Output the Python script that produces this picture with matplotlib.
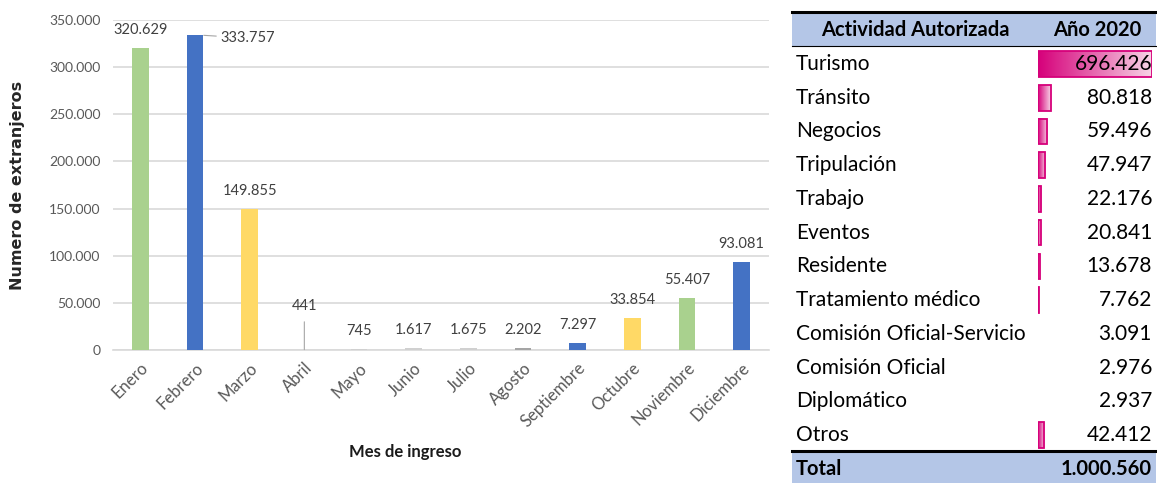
import numpy as np
import matplotlib.pyplot as plt
from matplotlib.patches import Rectangle
from matplotlib.colors import LinearSegmentedColormap

# monthly data (left chart)
meses = ["Enero", "Febrero", "Marzo", "Abril", "Mayo", "Junio", "Julio",
         "Agosto", "Septiembre", "Octubre", "Noviembre", "Diciembre"]
ingresos = [320629, 333757, 149855, 441, 745, 1617, 1675, 2202, 7297, 33854, 55407, 93081]
colores = ["#A9D18E", "#4472C4", "#FFD966", "#A5A5A5", "#D0D0D0", "#D0D0D0", "#D0D0D0",
           "#A5A5A5", "#4472C4", "#FFD966", "#A9D18E", "#4472C4"]
yticks = [0, 50000, 100000, 150000, 200000, 250000, 300000, 350000]

# table data (right)
actividades = ["Turismo", "Tránsito", "Negocios", "Tripulación", "Trabajo", "Eventos",
               "Residente", "Tratamiento médico", "Comisión Oficial-Servicio",
               "Comisión Oficial", "Diplomático", "Otros"]
valores = [696426, 80818, 59496, 47947, 22176, 20841, 13678, 7762, 3091, 2976, 2937, 42412]
total = 1000560


def fmt(v):
    return f"{v:,}".replace(",", ".")


W, H = 1157, 483
fig = plt.figure(figsize=(W / 100, H / 100), dpi=100)
plt.rcParams['font.family'] = ['Lato', 'DejaVu Sans']

# ---------- bar chart ----------
ax = fig.add_axes([113 / W, 1 - 350 / H, (769 - 113) / W, 330 / H])
x = np.arange(len(meses))
ax.bar(x, ingresos, width=0.31, color=colores, zorder=3)
ax.set_xlim(-0.5, len(meses) - 0.5)
ax.set_ylim(0, 350000)
ax.set_yticks(yticks)
ax.set_yticklabels([fmt(v) for v in yticks], fontsize=10, color="#595959")
ax.set_xticks(x)
ax.set_xticklabels(meses, rotation=45, ha="right", rotation_mode="anchor",
                   fontsize=12, color="#595959")
ax.tick_params(axis="both", length=0)
ax.tick_params(axis="y", pad=9)
ax.tick_params(axis="x", pad=7)
ax.grid(axis="y", color="#D9D9D9", linewidth=1.2, zorder=0)
for s in ["top", "right", "left"]:
    ax.spines[s].set_visible(False)
ax.spines["bottom"].set_color("#D9D9D9")
ax.spines["bottom"].set_linewidth(1.2)

for i, v in enumerate(ingresos):
    if i == 1:
        ax.annotate(fmt(v), xy=(i + 0.16, v), xytext=(12, -2), textcoords="offset points",
                    ha="left", va="center", fontsize=10.5, color="#404040",
                    arrowprops=dict(arrowstyle="-", color="#A6A6A6", lw=0.8,
                                    shrinkA=1, shrinkB=0))
    elif i == 3:
        ax.annotate(fmt(v), xy=(i, v), xytext=(0, 26), textcoords="offset points",
                    ha="center", va="bottom", fontsize=10.5, color="#404040",
                    arrowprops=dict(arrowstyle="-", color="#A6A6A6", lw=0.8,
                                    shrinkA=4, shrinkB=0))
    else:
        ax.annotate(fmt(v), xy=(i, v), xytext=(0, 8), textcoords="offset points",
                    ha="center", va="bottom", fontsize=10.5, color="#404040")

fig.text(18 / W, 1 - 185 / H, "Numero de extranjeros", rotation=90, ha="center",
         va="center", fontsize=11.5, fontweight="bold", color="#262626",
         family="DejaVu Sans")
fig.text(405 / W, 1 - 452 / H, "Mes de ingreso", ha="center", va="center",
         fontsize=12, fontweight="bold", color="#1a1a1a")

# ---------- table ----------
row0, rh = 64, 33.73
ylo = (483 - row0) / rh
yhi = (0 - row0) / rh
tx0, tx1 = 785, 1157
at = fig.add_axes([tx0 / W, 0, (tx1 - tx0) / W, 1])
at.set_xlim(tx0, tx1)
at.set_ylim(ylo, yhi)
at.axis("off")

hdr_fill = "#B4C6E7"
at.add_patch(Rectangle((792, -1.51), 1156 - 792, 0.98, color=hdr_fill, lw=0))
at.add_patch(Rectangle((792, 11.48), 1156 - 792, 1.0, color=hdr_fill, lw=0))
at.plot([792, 1156], [-1.53, -1.53], color="black", lw=2.2)
at.plot([792, 1156], [-0.52, -0.52], color="black", lw=0.8)
at.plot([792, 1156], [11.47, 11.47], color="black", lw=2.2)

at.text(915, -1.0, "Actividad Autorizada", ha="center", va="center",
        fontsize=14.5, fontweight="bold", color="black")
at.text(1097, -1.0, "Año 2020", ha="center", va="center",
        fontsize=14.5, fontweight="bold", color="black")
for i, a in enumerate(actividades):
    at.text(796, i, a, ha="left", va="center", fontsize=15, color="black")
at.text(796, 12, "Total", ha="left", va="center", fontsize=14.5,
        fontweight="bold", color="black")
at.text(1152, 12, fmt(total), ha="right", va="center", fontsize=14.5,
        fontweight="bold", color="black")

# data bars (Excel style: scaled from min to max)
ab = fig.add_axes([1038 / W, 0, (1152 - 1038) / W, 1])
vmin, vmax = min(valores), max(valores)
grad = np.linspace(0, 1, 256).reshape(1, -1)
cmap = LinearSegmentedColormap.from_list("pink", ["#D6007A", "#F7D4E6"])
bh = 0.76
for i, v in enumerate(valores):
    if v - vmin < 0.002 * (vmax - vmin):
        continue
    ab.imshow(grad, extent=(vmin, v, i + bh / 2, i - bh / 2), aspect="auto",
              cmap=cmap, zorder=2, interpolation="bilinear")
    ab.add_patch(Rectangle((vmin, i - bh / 2), v - vmin, bh, fill=False,
                           edgecolor="#D6007A", lw=1.3, zorder=3))
ab.set_xlim(vmin, vmax)
ab.set_ylim(ylo, yhi)
ab.axis("off")

# values on top of bars
av = fig.add_axes([tx0 / W, 0, (tx1 - tx0) / W, 1])
av.set_xlim(tx0, tx1)
av.set_ylim(ylo, yhi)
av.axis("off")
for i, v in enumerate(valores):
    av.text(1152, i, fmt(v), ha="right", va="center", fontsize=15, color="black")

fig.savefig("out.png", dpi=100)
